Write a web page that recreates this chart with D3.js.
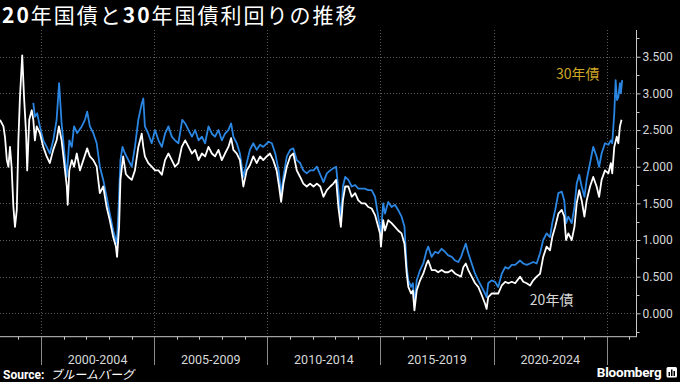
<!DOCTYPE html>
<html><head><meta charset="utf-8">
<script src="https://cdn.jsdelivr.net/npm/d3@7"></script>
<style>html,body{margin:0;padding:0;background:#000;} svg{display:block;}</style>
</head><body>
<svg id="chart" width="680" height="382"></svg>
<script>
// ---- data (decimal years, yield %) ----
const years20 = [1998.19,1998.34,1998.41,1998.49,1998.56,1998.63,1998.70,1998.78,1998.85,1998.93,1999.00,1999.07,1999.17,1999.25,1999.34,1999.39,1999.48,1999.59,1999.66,1999.73,1999.81,1999.95,2000.10,2000.25,2000.39,2000.54,2000.69,2000.79,2000.91,2001.01,2001.14,2001.18,2001.25,2001.36,2001.46,2001.58,2001.72,2001.87,2002.04,2002.16,2002.31,2002.46,2002.60,2002.75,2002.90,2003.04,2003.19,2003.31,2003.36,2003.45,2003.51,2003.63,2003.75,2003.86,2004.01,2004.15,2004.30,2004.45,2004.52,2004.59,2004.74,2004.89,2005.04,2005.19,2005.34,2005.48,2005.63,2005.78,2005.92,2006.07,2006.22,2006.37,2006.52,2006.67,2006.81,2006.96,2007.11,2007.25,2007.40,2007.55,2007.69,2007.84,2007.99,2008.13,2008.28,2008.40,2008.50,2008.65,2008.79,2008.94,2009.09,2009.23,2009.38,2009.53,2009.68,2009.82,2009.97,2010.12,2010.26,2010.41,2010.52,2010.61,2010.71,2010.86,2011.01,2011.15,2011.30,2011.45,2011.59,2011.74,2011.89,2012.04,2012.19,2012.34,2012.48,2012.63,2012.78,2012.92,2013.04,2013.14,2013.25,2013.34,2013.44,2013.58,2013.73,2013.88,2014.02,2014.17,2014.32,2014.46,2014.61,2014.76,2014.90,2014.98,2015.02,2015.12,2015.20,2015.34,2015.49,2015.64,2015.78,2015.93,2016.06,2016.16,2016.23,2016.35,2016.43,2016.50,2016.60,2016.75,2016.89,2017.04,2017.11,2017.26,2017.41,2017.55,2017.70,2017.85,2017.99,2018.15,2018.30,2018.44,2018.56,2018.66,2018.77,2018.88,2019.03,2019.18,2019.32,2019.47,2019.62,2019.69,2019.76,2019.91,2020.06,2020.20,2020.36,2020.51,2020.65,2020.80,2020.95,2021.17,2021.31,2021.46,2021.61,2021.75,2021.90,2022.05,2022.19,2022.34,2022.49,2022.59,2022.72,2022.86,2023.01,2023.12,2023.20,2023.30,2023.45,2023.57,2023.67,2023.78,2023.89,2024.01,2024.11,2024.26,2024.40,2024.55,2024.66,2024.77,2024.92,2025.07,2025.18,2025.24,2025.33,2025.44,2025.51,2025.58,2025.65];
const yield20 = [2.64,2.55,2.40,2.09,2.00,2.27,2.00,1.45,1.18,1.41,2.36,2.95,3.52,2.95,2.46,1.95,2.64,2.77,2.64,2.36,2.55,2.46,2.27,2.14,2.05,2.23,2.36,2.55,2.36,2.09,1.73,1.48,1.95,2.09,2.00,2.18,1.95,2.09,2.25,2.14,2.09,2.00,1.64,1.73,1.45,1.27,1.04,0.91,0.77,1.18,1.82,2.14,1.90,1.86,1.82,1.95,2.27,2.45,2.27,2.14,2.05,2.00,1.95,1.95,1.89,2.09,2.18,2.09,2.00,2.05,2.27,2.36,2.27,2.18,2.23,2.09,2.18,2.14,2.27,2.18,2.14,2.23,2.09,2.18,2.27,2.39,2.23,2.18,2.09,1.73,1.95,2.02,2.14,2.05,2.14,2.09,2.14,2.18,2.09,1.95,1.73,1.52,1.77,2.00,2.14,2.18,1.95,1.86,1.77,1.73,1.77,1.73,1.77,1.73,1.59,1.68,1.73,1.77,1.82,1.45,1.18,1.54,1.73,1.73,1.59,1.64,1.54,1.50,1.50,1.45,1.43,1.34,1.18,1.09,0.91,1.27,1.13,1.27,1.23,1.18,1.13,1.09,0.95,0.54,0.36,0.27,0.31,0.04,0.31,0.45,0.54,0.68,0.72,0.59,0.59,0.56,0.59,0.56,0.56,0.59,0.54,0.52,0.50,0.63,0.68,0.59,0.50,0.41,0.36,0.25,0.13,0.06,0.22,0.27,0.27,0.27,0.38,0.43,0.41,0.43,0.41,0.50,0.43,0.41,0.38,0.45,0.50,0.54,0.77,0.91,0.86,1.04,1.18,1.36,1.41,1.32,1.00,1.09,1.00,1.18,1.50,1.68,1.54,1.32,1.54,1.73,1.86,1.73,1.59,1.82,1.95,1.91,2.05,1.91,2.27,2.41,2.32,2.55,2.64];

const years30 = [1999.66,1999.73,1999.83,1999.95,2000.10,2000.25,2000.39,2000.54,2000.69,2000.80,2000.91,2001.01,2001.14,2001.25,2001.36,2001.46,2001.60,2001.80,2001.94,2002.04,2002.16,2002.31,2002.46,2002.60,2002.75,2002.90,2003.04,2003.19,2003.35,2003.43,2003.51,2003.60,2003.71,2003.86,2004.01,2004.15,2004.30,2004.45,2004.52,2004.59,2004.74,2004.89,2005.04,2005.19,2005.34,2005.48,2005.63,2005.78,2005.92,2006.07,2006.24,2006.37,2006.52,2006.67,2006.81,2006.96,2007.11,2007.25,2007.40,2007.55,2007.69,2007.84,2007.99,2008.13,2008.28,2008.40,2008.50,2008.65,2008.79,2008.94,2009.09,2009.23,2009.38,2009.53,2009.68,2009.82,2010.05,2010.20,2010.35,2010.50,2010.61,2010.71,2010.86,2011.01,2011.15,2011.30,2011.45,2011.59,2011.74,2011.89,2012.04,2012.19,2012.34,2012.48,2012.63,2012.78,2012.92,2013.04,2013.14,2013.25,2013.34,2013.44,2013.58,2013.73,2013.88,2014.02,2014.17,2014.32,2014.46,2014.61,2014.76,2014.90,2015.02,2015.12,2015.20,2015.34,2015.49,2015.64,2015.78,2015.93,2016.06,2016.16,2016.23,2016.35,2016.43,2016.50,2016.60,2016.75,2016.89,2017.04,2017.11,2017.26,2017.41,2017.55,2017.70,2017.85,2017.99,2018.15,2018.30,2018.44,2018.56,2018.66,2018.77,2018.88,2019.03,2019.18,2019.32,2019.47,2019.62,2019.69,2019.76,2019.91,2020.06,2020.20,2020.36,2020.51,2020.65,2020.80,2020.95,2021.17,2021.31,2021.46,2021.61,2021.75,2021.90,2022.05,2022.19,2022.34,2022.49,2022.59,2022.72,2022.86,2023.01,2023.12,2023.20,2023.30,2023.45,2023.57,2023.67,2023.78,2023.89,2024.01,2024.11,2024.26,2024.40,2024.55,2024.66,2024.77,2024.92,2025.07,2025.18,2025.24,2025.33,2025.39,2025.45,2025.51,2025.58,2025.62,2025.68];
const yield30 = [2.87,2.68,2.73,2.55,2.36,2.27,2.18,2.36,2.64,3.14,2.59,2.27,1.86,2.36,2.27,2.55,2.46,2.55,2.64,2.75,2.55,2.46,2.32,2.00,1.82,1.59,1.36,1.13,0.95,1.45,2.09,2.27,2.18,2.09,2.00,2.27,2.64,2.86,2.93,2.55,2.45,2.32,2.50,2.36,2.27,2.45,2.55,2.41,2.36,2.32,2.64,2.59,2.50,2.41,2.50,2.36,2.41,2.32,2.55,2.45,2.41,2.50,2.36,2.45,2.50,2.59,2.41,2.32,2.18,1.86,2.05,2.23,2.32,2.23,2.30,2.27,2.34,2.32,2.18,1.95,1.62,1.86,2.14,2.23,2.25,2.09,2.05,1.95,1.91,1.95,1.95,2.00,1.89,1.79,1.91,1.95,1.98,2.00,1.68,1.27,1.73,1.86,1.82,1.73,1.75,1.70,1.70,1.70,1.68,1.68,1.59,1.32,1.09,1.50,1.36,1.52,1.45,1.48,1.41,1.32,1.18,0.63,0.45,0.36,0.41,0.13,0.45,0.59,0.68,0.86,0.91,0.77,0.84,0.82,0.88,0.84,0.79,0.77,0.72,0.70,0.77,0.86,0.95,0.82,0.68,0.54,0.45,0.36,0.27,0.22,0.41,0.45,0.43,0.36,0.54,0.63,0.61,0.66,0.66,0.72,0.68,0.66,0.68,0.70,0.68,0.82,1.00,1.09,1.04,1.23,1.41,1.64,1.66,1.54,1.23,1.32,1.23,1.45,1.77,1.89,1.73,1.59,1.82,2.05,2.27,2.14,2.00,2.18,2.32,2.30,2.36,2.32,2.73,3.18,2.91,2.95,3.14,3.00,3.18];

const yTicks = [0, 0.5, 1.0, 1.5, 2.0, 2.5, 3.0, 3.5];
const periodBounds = [2000, 2005, 2010, 2015, 2020, 2025];
const periodLabels = ["2000-2004", "2005-2009", "2010-2014", "2015-2019", "2020-2024"];
const seriesNames = ["20年債", "30年債"];
const titleParts = [["20", true], ["年国債と", false], ["30", true], ["年国債利回りの推移", false]];

// ---- layout ----
const W = 680, H = 382;
const plot = {left: 0, right: 636, top: 30, bottom: 336.7};
const svg = d3.select("#chart");
svg.append("rect").attr("width", W).attr("height", H).attr("fill", "#000");

const x = d3.scaleLinear().domain([1998.188, 2026.29]).range([plot.left, plot.right]);
const y = d3.scaleLinear().domain([-0.319, 3.865]).range([plot.bottom, plot.top]);

// grid
const grid = svg.append("g");
grid.selectAll("line.h").data(yTicks).join("line")
  .attr("x1", plot.left).attr("x2", plot.right)
  .attr("y1", d => Math.round(y(d)) + 0.5).attr("y2", d => Math.round(y(d)) + 0.5)
  .attr("stroke", "#5a5a5a").attr("stroke-width", 1).attr("stroke-dasharray", "1,2");
grid.selectAll("line.v").data(periodBounds).join("line")
  .attr("x1", d => Math.round(x(d)) + 0.5).attr("x2", d => Math.round(x(d)) + 0.5)
  .attr("y1", plot.top).attr("y2", plot.bottom)
  .attr("stroke", "#5a5a5a").attr("stroke-width", 1).attr("stroke-dasharray", "1,2");

// lines
const line = d3.line().x(d => x(d[0])).y(d => y(d[1]));
const data30 = years30.map((t, i) => [t, yield30[i]]);
const data20 = years20.map((t, i) => [t, yield20[i]]);
svg.append("path").datum(data30).attr("d", line)
  .attr("fill", "none").attr("stroke", "#2a86e2").attr("stroke-width", 1.8).attr("stroke-linejoin", "round");
svg.append("path").datum(data20).attr("d", line)
  .attr("fill", "none").attr("stroke", "#ffffff").attr("stroke-width", 1.8).attr("stroke-linejoin", "round");

// right axis
const yAxis = d3.axisRight(y).tickValues(yTicks).tickSize(4).tickPadding(2)
  .tickFormat(d3.format(".3f"));
const yAx = svg.append("g").attr("transform", `translate(${plot.right + 0.5},0)`).call(yAxis);
yAx.select(".domain").remove();
yAx.selectAll("line").attr("stroke", "#c8c8c8");
yAx.selectAll("text").attr("fill", "#d8d8d8").attr("font-size", "12px")
  .attr("font-family", "Roboto, 'Liberation Sans', sans-serif");
const yMinor = d3.range(-0.25, 3.8, 0.5);
svg.append("g").selectAll("line").data(yMinor).join("line")
  .attr("x1", plot.right).attr("x2", plot.right + 3.5)
  .attr("y1", d => Math.round(y(d)) + 0.5).attr("y2", d => Math.round(y(d)) + 0.5)
  .attr("stroke", "#c8c8c8");
svg.append("line").attr("x1", plot.right + 0.5).attr("x2", plot.right + 0.5)
  .attr("y1", plot.top).attr("y2", plot.bottom).attr("stroke", "#c8c8c8");

// bottom axis
svg.append("line").attr("x1", plot.left).attr("x2", plot.right + 1)
  .attr("y1", plot.bottom).attr("y2", plot.bottom).attr("stroke", "#c8c8c8");
const yearTicks = d3.range(1999, 2027);
svg.append("g").selectAll("line").data(yearTicks.filter(d => d % 5 !== 0)).join("line")
  .attr("x1", d => Math.round(x(d)) + 0.5).attr("x2", d => Math.round(x(d)) + 0.5)
  .attr("y1", plot.bottom).attr("y2", plot.bottom + 3)
  .attr("stroke", "#c8c8c8");
svg.append("g").selectAll("line").data(periodBounds).join("line")
  .attr("x1", d => Math.round(x(d)) + 0.5).attr("x2", d => Math.round(x(d)) + 0.5)
  .attr("y1", plot.bottom).attr("y2", 365)
  .attr("stroke", "#8a8a8a");
svg.append("g").selectAll("text").data(periodLabels).join("text")
  .attr("x", (d, i) => (x(periodBounds[i]) + x(periodBounds[i + 1])) / 2)
  .attr("y", 363.5).attr("text-anchor", "middle")
  .attr("fill", "#d8d8d8").attr("font-size", "12.5px")
  .attr("font-family", "Roboto, 'Liberation Sans', sans-serif")
  .text(d => d);

// series labels
svg.append("text").attr("x", x(2022.75)).attr("y", 79).attr("text-anchor", "start")
  .attr("fill", "#cfa526").attr("font-size", "14px")
  .attr("font-family", "'Noto Sans CJK JP', sans-serif").text(seriesNames[1]);
svg.append("text").attr("x", x(2021.6)).attr("y", 305).attr("text-anchor", "start")
  .attr("fill", "#d6d6d6").attr("font-size", "14px")
  .attr("font-family", "'Noto Sans CJK JP', sans-serif").text(seriesNames[0]);

// title
const title = svg.append("text").attr("x", 2).attr("y", 23)
  .attr("fill", "#ffffff").attr("font-size", "21px").attr("letter-spacing", "2px")
  .attr("font-family", "'Noto Sans CJK JP', sans-serif");
titleParts.forEach(([t, b]) => title.append("tspan").attr("font-weight", b ? 700 : 400).text(t));

// source
const src = svg.append("text").attr("x", 3).attr("y", 379)
  .attr("fill", "#ffffff").attr("font-size", "12px")
  .attr("font-family", "Roboto, 'Liberation Sans', sans-serif");
src.append("tspan").attr("font-weight", 700).text("Source:");
src.append("tspan").attr("dx", 6).attr("font-family", "'Noto Sans CJK JP', sans-serif")
  .attr("font-size", "12px").attr("font-style", "italic").text("ブルームバーグ");

// Bloomberg logo
svg.append("text").attr("x", 661.5).attr("y", 377).attr("text-anchor", "end")
  .attr("fill", "#ffffff").attr("font-size", "13.5px").attr("font-weight", 700)
  .attr("font-family", "Roboto, 'Liberation Sans', sans-serif").attr("letter-spacing", "-0.2px")
  .text("Bloomberg");
const logo = svg.append("g").attr("transform", "translate(666.5,367)");
logo.append("rect").attr("width", 10.5).attr("height", 10.5).attr("rx", 1.5).attr("fill", "#ffffff");
[[2, 5, 4], [4.5, 2.5, 6.5], [7, 4, 5]].forEach(([bx, by, bh]) =>
  logo.append("rect").attr("x", bx).attr("y", by).attr("width", 1.5).attr("height", bh).attr("fill", "#000"));
</script>
</body></html>
